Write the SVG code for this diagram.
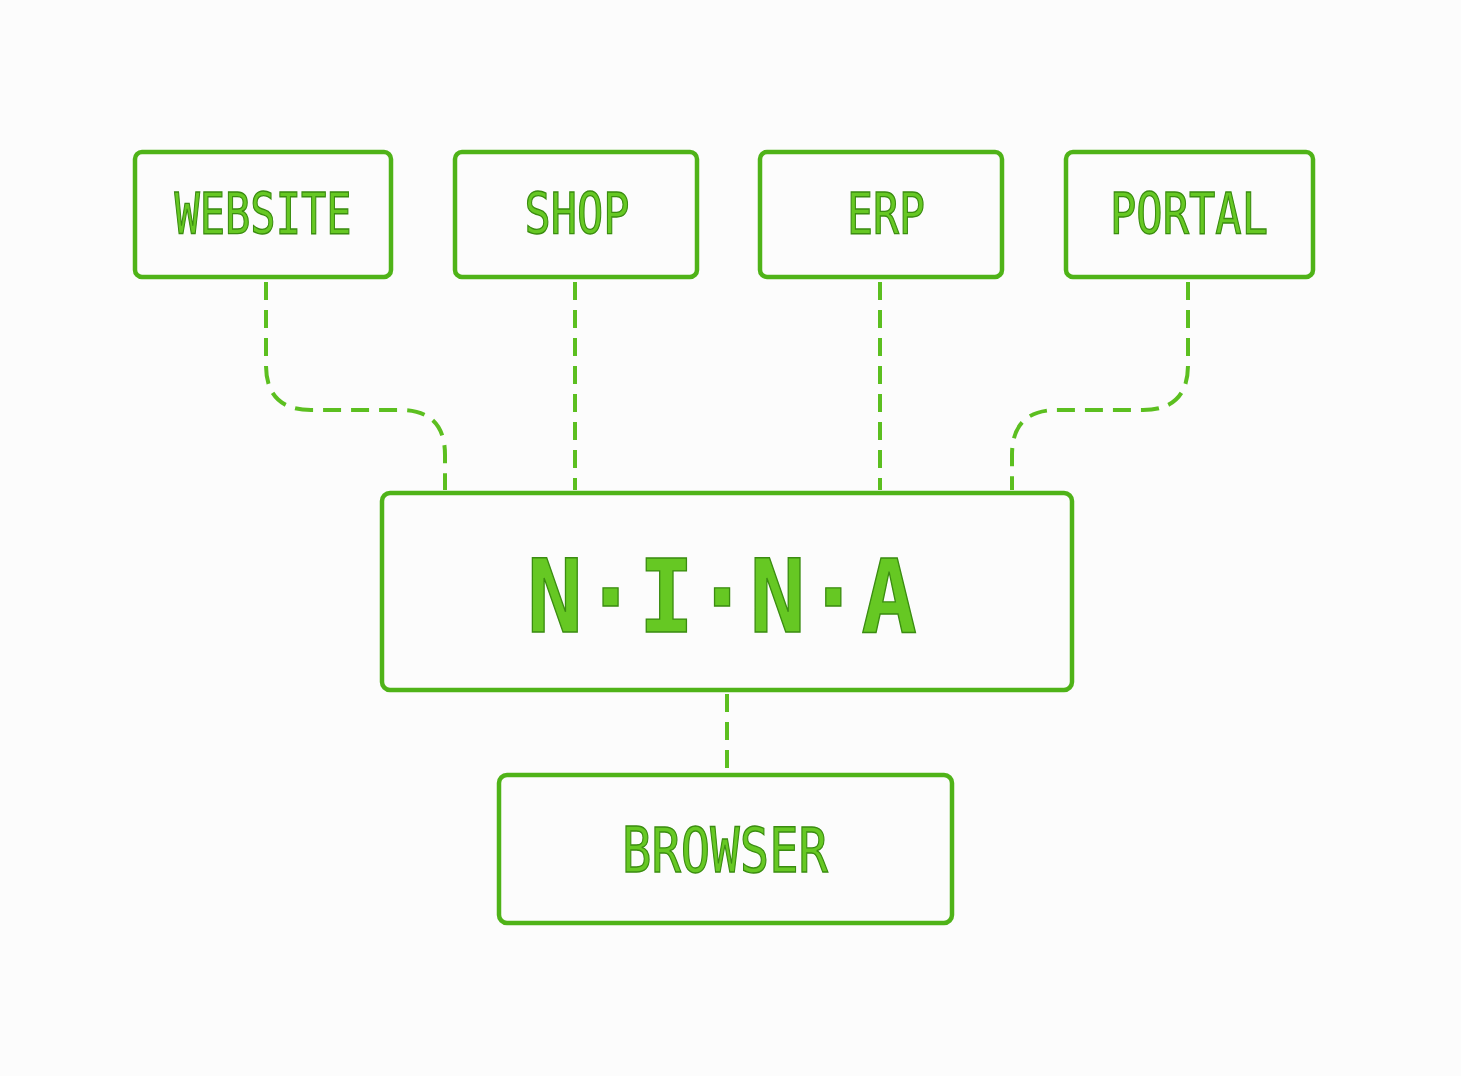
<svg xmlns="http://www.w3.org/2000/svg" width="1461" height="1076" viewBox="0 0 1461 1076">
<style>
.box{fill:none;stroke:#4fb318;stroke-width:4.5}
.lbl{font-family:"DejaVu Sans Mono","Liberation Mono",monospace;fill:#66c823;stroke:#3a8c10;stroke-width:1.4;text-anchor:middle}
.big{font-weight:bold}
.con{fill:none;stroke:#5cbf20;stroke-width:4;stroke-dasharray:18 10}
</style>
<rect width="1461" height="1076" fill="#fcfcfc"/>
<g id="connectors">
<path class="con" d="M266,282 V365 Q266,410 311,410 H400 Q445,410 445,455 V490"/>
<path class="con" d="M575,282 V490"/>
<path class="con" d="M880,282 V490"/>
<path class="con" d="M1188,282 V365 Q1188,410 1143,410 H1057 Q1012,410 1012,455 V490"/>
<path class="con" d="M727,694 V772"/>
</g>
<g id="website"><rect class="box" x="135" y="152" width="256" height="125" rx="7"/><text class="lbl" x="263" y="234" font-size="57" textLength="177" lengthAdjust="spacingAndGlyphs">WEBSITE</text></g>
<g id="shop"><rect class="box" x="455" y="152" width="242" height="125" rx="7"/><text class="lbl" x="577" y="234" font-size="57" textLength="105" lengthAdjust="spacingAndGlyphs">SHOP</text></g>
<g id="erp"><rect class="box" x="760" y="152" width="242" height="125" rx="7"/><text class="lbl" x="886" y="234" font-size="57" textLength="78" lengthAdjust="spacingAndGlyphs">ERP</text></g>
<g id="portal"><rect class="box" x="1066" y="152" width="247" height="125" rx="7"/><text class="lbl" x="1189" y="234" font-size="57" textLength="158" lengthAdjust="spacingAndGlyphs">PORTAL</text></g>
<g id="nina"><rect class="box" x="382" y="493" width="690" height="197" rx="8"/><text class="lbl big" x="722" y="632" font-size="101" textLength="390" lengthAdjust="spacingAndGlyphs">N·I·N·A</text></g>
<g id="browser"><rect class="box" x="499" y="775" width="453" height="148" rx="8"/><text class="lbl" x="725" y="872" font-size="63" textLength="206" lengthAdjust="spacingAndGlyphs">BROWSER</text></g>
</svg>
